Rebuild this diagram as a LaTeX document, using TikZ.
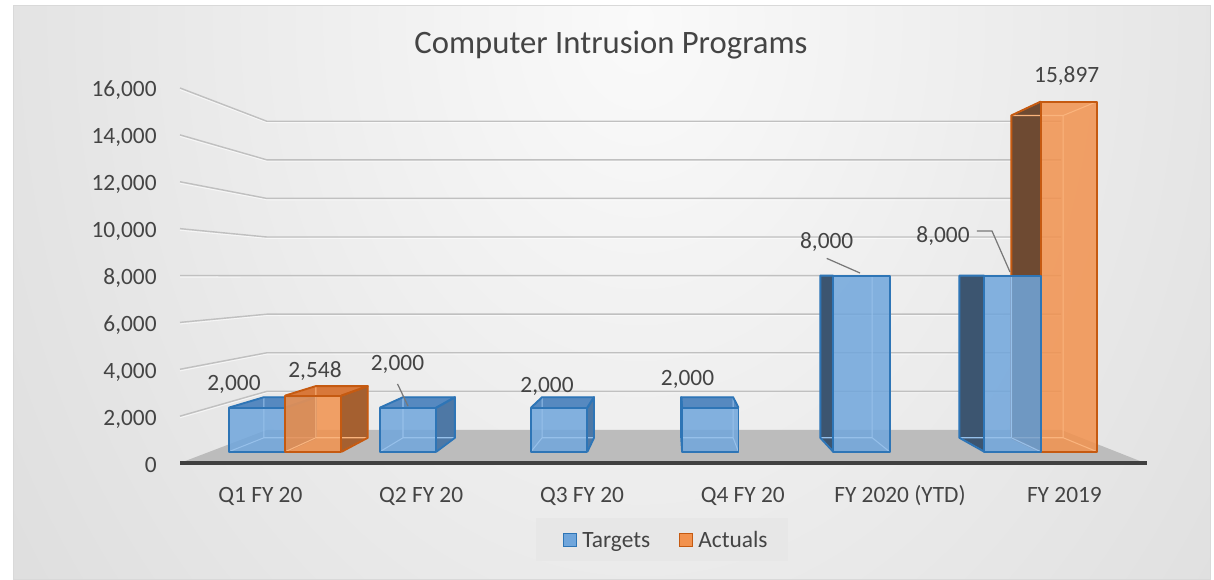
\documentclass[tikz,border=0pt]{standalone}
\usepackage{fontspec}
\setmainfont{Carlito}
\usetikzlibrary{calc}
\definecolor{txtgray}{RGB}{68,68,68}
\definecolor{bginner}{RGB}{250,250,250}
\definecolor{bgmid}{RGB}{221,221,221}
\definecolor{bgdark}{RGB}{202,202,202}
\definecolor{bgouter}{RGB}{196,196,196}
\definecolor{gridgray}{RGB}{192,192,192}
\definecolor{floorgray}{RGB}{188,188,188}
\definecolor{floordark}{RGB}{64,64,64}
\definecolor{leadgray}{RGB}{120,120,120}
\definecolor{legendfill}{RGB}{231,231,231}
\definecolor{tfront}{RGB}{112,166,220}
\definecolor{tedge}{RGB}{46,117,182}
\definecolor{tleft}{RGB}{60,85,112}
\definecolor{tright}{RGB}{78,120,165}
\definecolor{ttop}{RGB}{86,137,192}
\definecolor{tinner}{RGB}{150,192,234}
\definecolor{afront}{RGB}{242,146,78}
\definecolor{aedge}{RGB}{197,90,17}
\definecolor{aleft}{RGB}{110,74,50}
\definecolor{aright}{RGB}{165,96,48}
\definecolor{atop}{RGB}{216,120,58}
\definecolor{ainner}{RGB}{250,180,125}
\pgfdeclareradialshading{chartbg}{\pgfpoint{0bp}{0bp}}{color(0bp)=(bginner); color(20bp)=(bgmid); color(30bp)=(bgdark); color(50bp)=(bgouter)}
\tikzset{every node/.style={text=txtgray, font=\fontsize{13.3}{16}\selectfont, inner sep=0pt}}
\tikzset{
  axislabel/.style={anchor=base east},
  catlabel/.style={anchor=base},
  datalabel/.style={anchor=base},
  leader/.style={draw=leadgray, line width=0.7pt},
  wallgrid/.style={draw=gridgray, line width=0.8pt},
  wallshine/.style={draw=white, draw opacity=0.6, line width=0.6pt},
  floorline/.style={draw=floordark, line width=2.2pt},
  targetsfront/.style={fill=tfront, fill opacity=0.85},
  targetsleft/.style={fill=tleft},
  targetsright/.style={fill=tright},
  targetstop/.style={fill=ttop},
  targetsinner/.style={draw=tinner, line width=0.6pt},
  targetsedge/.style={draw=tedge, line width=1.1pt, line join=round},
  actualsfront/.style={fill=afront, fill opacity=0.85},
  actualsleft/.style={fill=aleft},
  actualsright/.style={fill=aright},
  actualstop/.style={fill=atop},
  actualsinner/.style={draw=ainner, line width=0.6pt},
  actualsedge/.style={draw=aedge, line width=1.1pt, line join=round},
  swatch/.style={minimum size=0.26cm, line width=1pt}
}
% one grid level on the left and back walls
\newcommand{\wallline}[1]{%
  \pgfmathsetmacro{\yg}{463-#1*0.02344}
  \draw[wallshine] (180,\yg+1.6) -- ($(vp)!0.823!(180,\yg+1.6)$) -- ($(vp)!0.823!(1145,\yg+1.6)$);
  \draw[wallgrid] (180,\yg) -- ($(vp)!0.823!(180,\yg)$) -- ($(vp)!0.823!(1145,\yg)$);
}
% a 3d bar: left, right, value, series
\newcommand{\cube}[4]{%
  \pgfmathsetmacro{\ytop}{463-#3*0.02344}
  \coordinate (p1) at ($(vp)!0.94!(#1,463)$);
  \coordinate (p2) at ($(vp)!0.94!(#2,463)$);
  \coordinate (p3) at ($(vp)!0.94!(#2,\ytop)$);
  \coordinate (p4) at ($(vp)!0.94!(#1,\ytop)$);
  \coordinate (q1) at ($(vp)!0.865!(#1,463)$);
  \coordinate (q2) at ($(vp)!0.865!(#2,463)$);
  \coordinate (q3) at ($(vp)!0.865!(#2,\ytop)$);
  \coordinate (q4) at ($(vp)!0.865!(#1,\ytop)$);
  \ifdim #1pt>671pt \fill[#4left] (p1)--(q1)--(q4)--(p4)--cycle; \fi
  \ifdim #2pt<671pt \fill[#4right] (p2)--(q2)--(q3)--(p3)--cycle; \fi
  \ifdim \ytop pt>276pt \fill[#4top] (p4)--(p3)--(q3)--(q4)--cycle; \fi
  \fill[#4front] (p1)--(p2)--(p3)--(p4)--cycle;
  \draw[#4inner] (q1)--(q2)--(q3)--(q4)--cycle (p1)--(q1) (p2)--(q2) (p3)--(q3) (p4)--(q4);
  \ifdim #1pt>671pt \draw[#4edge] (p1)--(q1)--(q4)--(p4); \fi
  \ifdim #2pt<671pt \draw[#4edge] (p2)--(q2)--(q3)--(p3); \fi
  \ifdim \ytop pt>276pt \draw[#4edge] (p4)--(q4)--(q3)--(p3); \fi
  \draw[#4edge] (p1)--(p2)--(p3)--(p4)--cycle;
}

\begin{document}
\begin{tikzpicture}[x=0.02cm, y=-0.02cm]
\useasboundingbox (0,0) rectangle (1214,579);
% background
\fill[bgouter] (13,5) rectangle (1210,579);
\begin{scope}
\clip (13,5) rectangle (1210,579);
\shade[shading=chartbg] (640,20) ellipse [x radius=1000, y radius=1300];
\end{scope}
\draw[gray!30, line width=0.4pt] (13,5) rectangle (1210,579);
\coordinate (vp) at (671,276);

\node[anchor=base, font=\fontsize{18.6}{22}\selectfont] (title) at (611,53) {Computer Intrusion Programs};

% floor and walls
\fill[floorgray] (180,463) -- (1145,463) -- ($(vp)!0.823!(1145,463)$) -- ($(vp)!0.823!(180,463)$) -- cycle;
\wallline{2000}
\wallline{4000}
\wallline{6000}
\wallline{8000}
\wallline{10000}
\wallline{12000}
\wallline{14000}
\wallline{16000}
\draw[floorline] (180,463) -- (1147,463);

% value axis
\node[axislabel] (y0) at (157,472) {0};
\node[axislabel] (y2) at (157,425) {2,000};
\node[axislabel] (y4) at (157,378) {4,000};
\node[axislabel] (y6) at (157,331) {6,000};
\node[axislabel] (y8) at (157,284) {8,000};
\node[axislabel] (y10) at (157,237.5) {10,000};
\node[axislabel] (y12) at (157,190.5) {12,000};
\node[axislabel] (y14) at (157,143.5) {14,000};
\node[axislabel] (y16) at (157,96.5) {16,000};

% categories
\node[catlabel] (c1) at (260.4,502) {Q1 FY 20};
\node[catlabel] (c2) at (421.2,502) {Q2 FY 20};
\node[catlabel] (c3) at (582,502) {Q3 FY 20};
\node[catlabel] (c4) at (742.8,502) {Q4 FY 20};
\node[catlabel] (c5) at (900,502) {FY 2020 (YTD)};
\node[catlabel] (c6) at (1064.4,502) {FY 2019};

% bars
\cube{200.4}{260.4}{2000}{targets}
\cube{260.4}{320.4}{2548}{actuals}
\cube{361.2}{421.2}{2000}{targets}
\cube{522}{582}{2000}{targets}
\cube{682.8}{742.8}{2000}{targets}
\cube{843.6}{903.6}{8000}{targets}
\cube{1064.4}{1124.4}{15897}{actuals}
\cube{1004.4}{1064.4}{8000}{targets}

% data labels
\node[datalabel] (d1) at (234,390) {2,000};
\node[datalabel] (d2) at (315,377) {2,548};
\node[datalabel] (d3) at (397.5,370) {2,000};
\node[datalabel] (d4) at (547,392) {2,000};
\node[datalabel] (d5) at (687.5,385) {2,000};
\node[datalabel] (d6) at (826.7,248) {8,000};
\node[datalabel] (d7) at (943,242) {8,000};
\node[datalabel] (d8) at (1066.7,82) {15,897};
\coordinate (t3) at (408,406);
\coordinate (t6) at (860,273);
\coordinate (t7) at (1010,272);
\coordinate (k7) at (992,231);
\draw[leader] ([yshift=-6pt]d3.south) -- (t3);
\draw[leader] ([yshift=-4pt]d6.south) -- (t6);
\draw[leader] ([xshift=4pt]d7.east |- k7) -- (k7) -- (t7);

% legend
\fill[legendfill] (536,518) rectangle (788,561);
\node[swatch, draw=tedge, fill=tfront] (swt) at (570,540) {};
\node[anchor=base west] (legt) at (582,547) {Targets};
\node[swatch, draw=aedge, fill=afront] (swa) at (686,540) {};
\node[anchor=base west] (lega) at (698,547) {Actuals};
\end{tikzpicture}
\end{document}
